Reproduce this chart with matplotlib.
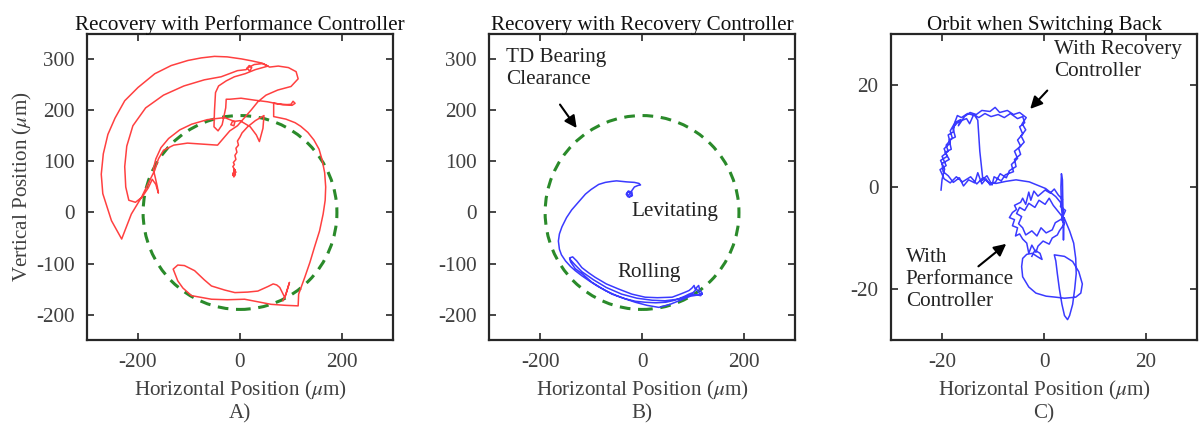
import matplotlib
matplotlib.use('Agg')
import matplotlib.pyplot as plt
from matplotlib.patches import Circle

# fuente tipo Times como en MATLAB
plt.rcParams['font.family'] = ['Liberation Serif', 'DejaVu Serif']
plt.rcParams['mathtext.fontset'] = 'stix'
plt.rcParams['axes.unicode_minus'] = False

# radio de holgura del rodamiento TD (um)
clearance_radius = 190

# A) recuperacion con controlador de desempeno (x, y en um)
perf_x = [-12, -9, -14, -10, -13, -9, -12, -10, -14, -11, -13, -8, -12, -10, -14, -11, -13, -8, -10, -6, -8, -3, -5, 0, 4,
          15, 30, 47, 45, 38, 32, 20, 0, -15, -18, -12, -10,
          -30, -64, -95, -118, -140, -155, -165, -170, -166, -162, -160, -165, -172, -180, -192, -205, -218,
          -224, -226, -222, -210, -185, -150, -110, -70, -37, -5, 12,
          18, 23, 19, 14, 28, 45, 58,
          75, 95, 110, 114, 100, 74, 51, 35, 22, 8, -5, -20, -44,
          -75, -103, -130, -150, -160, -167, -177, -193, -213, -232,
          -252, -269, -272, -268, -259, -245, -226, -200, -167, -135, -102, -76, -50, -25, 3, 24, 42, 55,
          30, 10, -11, -27, -42, -48, -50, -51, -43, -35, -28, -27, -20, 2, 30, 54, 84, 100, 104, 108, 102, 85, 66, 66,
          90, 108, 119, 133, 145, 155, 161, 166, 168, 167, 163, 156, 146, 137, 127, 115, 114,
          90, 61, 35, 9, -25, -56, -95, -112, -122, -131, -122, -109, -89, -70, -56, -30, -10, 15, 35, 55, 65, 72, 78, 88, 97, 90, 84]
perf_y = [70, 74, 77, 80, 72, 78, 84, 76, 73, 82, 75, 79, 86, 83, 90, 94, 98, 104, 112, 118, 126, 132, 140, 148, 156,
          168, 180, 190, 165, 139, 152, 168, 180, 178, 172, 170, 178,
          186, 182, 173, 162, 145, 127, 105, 85, 68, 50, 38, 55, 65, 48, 30, 20, 24,
          50, 90, 130, 170, 205, 230, 248, 260, 266, 278, 280,
          288, 284, 277, 283, 290, 292, 285,
          287, 284, 276, 262, 247, 240, 230, 217, 201, 185, 170, 160, 132,
          134, 136, 132, 122, 105, 83, 63, 30, -3, -52,
          -16, 37, 75, 115, 153, 185, 219, 245, 272, 288, 298, 303, 306, 305, 301, 297, 293, 287,
          280, 272, 266, 258, 248, 235, 200, 168, 160, 172, 205, 222, 222, 224, 220, 217, 211, 212, 218, 214, 210, 212, 214, 188,
          183, 176, 169, 157, 142, 124, 103, 78, 50, 24, -3, -36, -68, -98, -127, -160, -183,
          -182, -180, -175, -170, -171, -170, -163, -148, -134, -111, -103, -104, -114, -132, -144, -152, -157, -156, -154, -145, -140, -142, -147, -167, -137, -160, -173]

# B) recuperacion con controlador de recuperacion
rec_x = [-25, -19, -20, -27, -31, -28, -22, -21, -26, -30, -27,
         -22, -15, -8, -3, -6, -15, -30, -50, -59, -72, -85, -100, -111, -125, -138, -148, -157, -162, -164, -162, -158,
         -150, -140, -131, -118, -105, -88, -72, -52, -33, -13, 7, 27, 46, 60, 72, 84, 92, 100, 107, 112, 118, 108, 95,
         75, 55, 33, 10, -13, -40, -59, -80, -98, -115, -131, -140, -142, -136, -128, -118, -105, -92, -70, -46, -20,
         6, 30, 59, 75, 85, 92, 98, 102, 104, 108, 111, 113, 118, 115, 100, 88, 70,
         45, 20, -10, -40, -70, -95, -118, -132, -141]
rec_y = [30, 33, 40, 42, 36, 31, 32, 38, 41, 37, 33,
         40, 50, 53, 54, 57, 59, 60, 62, 61, 59, 55, 45, 36, 20, 5, -10, -28, -42, -56, -72, -83,
         -95, -106, -114, -124, -133, -144, -153, -162, -169, -174, -176, -177, -176, -173, -169, -164, -160, -157, -150, -158, -160, -162, -164,
         -172, -180, -186, -182, -176, -167, -160, -148, -137, -122, -110, -97, -89, -87, -95, -108, -118, -127, -140, -150, -160,
         -166, -167, -166, -160, -156, -153, -148, -143, -150, -146, -143, -152, -158, -163, -160, -165, -170,
         -173, -172, -168, -160, -147, -132, -116, -102, -92]

# C) orbita al volver al controlador de desempeno
orb_x = [-20.2, -20.0, -19.5, -20.3, -19.0, -19.6, -18.4, -18.8, -17.8, -17.5, -16.4, -16.8, -15.6, -14.5, -13.3, -12.2,
         -10.6, -9.6, -8.7, -7.2, -6.0, -4.8, -3.5, -4.3, -3.6, -4.5, -3.9, -5.0, -4.6, -5.8, -5.5, -6.8, -7.4, -8.6,
         -9.5, -10.6, -11.4, -12.2, -13.0, -13.6, -14.8, -15.8, -16.6, -17.8, -18.8, -19.8,
         -20.0, -18.6, -19.4, -18.2, -18.6, -17.4, -17.9, -16.8, -15.2, -14.6, -13.8, -12.8, -11.6, -10.4, -9.0, -7.8,
         -6.6, -5.2, -4.2, -3.8, -4.8, -4.2, -5.2, -4.6, -5.8, -5.2, -6.4, -6.0, -7.6, -8.4, -9.8, -10.2, -11.2, -12.4,
         -12.0, -12.6, -13.0, -13.6,
         -15.0, -16.2, -17.0, -17.6, -18.4, -18.0, -19.2, -18.8, -20.0, -19.2, -20.4, -19.6, -18.4, -17.2, -16.0, -14.4,
         -13.2, -12.0, -10.8, -9.4,
         -7.5, -5.5, -2.9, 0.3, 2.3,
         3.2, 3.8, 3.4, 4.0, 3.0, 2.6, 1.6, 1.0, -0.2, -1.2, -1.6, -2.4, -3.0, -3.4, -4.2, -4.8, -5.6, -5.2, -6.2, -5.8,
         -6.8, -6.2, -5.4, -5.8, -4.6, -4.2, -3.6, -3.0, -2.6, -2.0, -1.2, 0.2, 1.2, 2.0, 2.8, 3.6, 3.2, 4.2, 3.6,
         3.4, 3.3, 3.4, 3.6, 3.7, 3.8, 3.9,
         2.2, 1.6, 0.4, -0.6, -1.4, -2.4, -3.6, -4.2, -5.0, -4.4, -5.4, -4.8, -3.8, -3.0, -1.8, -1.0, 0.2, 1.0, 1.8,
         2.6, 3.4, 4.0,
         5.0, 5.8, 6.2, 6.3, 6.0, 5.6, 5.0, 4.6, 4.0, 3.5, 3.0, 2.6, 2.3, 2.0,
         4.0, 5.6, 6.8, 7.5, 7.2, 6.2, 4.0, 2.3, 0.4, -1.6, -3.0, -4.2, -4.4, -4.2, -3.4, -2.3, -1.4, -0.4, -0.8,
         -1.8, -2.4]
orb_y = [-0.6, 1.5, 3.5, 5.2, 6.0, 7.5, 8.6, 10.2, 10.8, 12.6, 13.2, 12.0, 13.8, 14.6, 14.2, 15.0,
         14.8, 15.6, 14.6, 15.0, 14.2, 14.6, 13.6, 12.4, 11.2, 10.0, 8.8, 7.6, 6.4, 5.4, 4.0, 3.2, 1.8, 2.6,
         1.0, 0.4, 1.6, 0.6, 2.8, 0.8, 1.4, 0.2, 1.8, 0.9, 2.2, 3.0,
         4.6, 5.4, 6.8, 7.4, 9.2, 9.8, 11.6, 12.8, 13.4, 12.4, 14.2, 13.6, 14.4, 13.8, 14.2, 13.6,
         14.4, 13.4, 13.8, 12.6, 11.8, 10.4, 9.2, 8.0, 7.0, 5.6, 4.4, 3.0, 2.4, 1.2, 2.0, 0.4, 2.2, 1.2,
         1.4, 7.0, 13.1, 14.0,
         14.4, 13.6, 14.0, 12.4, 11.0, 9.6, 8.2, 7.0, 6.0, 4.2, 3.4, 1.6, 0.8, 2.0, 1.0, 2.0,
         0.6, 1.8, 0.8, 0.7,
         1.1, 1.4, 1.0, -0.3, -1.9,
         -3.0, -5.0, -6.4, -7.2, -8.6, -9.4, -10.0, -11.2, -10.6, -11.6, -12.8, -11.4, -13.0, -11.0, -10.2, -9.2, -9.6, -8.0, -7.6, -6.4,
         -6.0, -5.0, -4.4, -3.6, -3.0, -2.2, -3.4, -1.0, -2.6, -0.8, -1.8, -0.6, -1.2, -0.4, -1.6, -2.4, -3.8, -4.6, -6.0,
         -4.0, 0.0, 2.6, 1.4, -4.0, -10.4, -6.0,
         -7.0, -8.4, -9.0, -8.0, -9.6, -8.6, -9.4, -8.0, -7.2, -5.8, -5.2, -4.0, -4.6, -3.2, -4.0, -2.6, -3.4, -2.2, -3.6,
         -4.6, -5.6, -6.2,
         -8.6, -11.0, -14.0, -17.0, -20.0, -23.0, -25.2, -26.0, -25.2, -23.0, -20.0, -17.0, -14.5, -13.3,
         -13.6, -14.6, -16.6, -19.0, -20.8, -21.6, -21.8, -21.6, -21.4, -20.8, -19.6, -17.6, -15.6, -14.0, -13.2, -13.0, -13.6, -14.2, -13.0,
         -12.4, -13.6]

big_ticks_x = [-200, 0, 200]
big_ticks_y = [-200, -100, 0, 100, 200, 300]
small_ticks = [-20, 0, 20]

txt_color = '#404040'
fs = 15.2

fig = plt.figure(figsize=(12.03, 4.24), dpi=100)

def estilo(ax, titulo, letra):
    for s in ax.spines.values():
        s.set_color('#262626')
        s.set_linewidth(1.6)
    ax.tick_params(direction='in', top=True, right=True, length=5, width=1.2,
                   colors='#262626', labelcolor=txt_color, labelsize=fs, pad=9)
    ax.set_title(titulo, fontsize=fs, color='#111111', pad=3)
    ax.set_xlabel('Horizontal Position ($\\mu$m)\n' + letra, fontsize=fs, color=txt_color,
                  linespacing=1.2, labelpad=5)

# Grafico A
ax1 = fig.add_axes([0.0723, 0.198, 0.2544, 0.722])
ax1.add_patch(Circle((0, 0), clearance_radius, fill=False, color='#2a8a2a', lw=2.2, ls=(0, (3.5, 2.5))))
ax1.plot(perf_x, perf_y, color='#ff4040', lw=1.1)
ax1.set_xlim(-300, 300)
ax1.set_ylim(-250, 350)
ax1.set_xticks(big_ticks_x)
ax1.set_yticks(big_ticks_y)
estilo(ax1, 'Recovery with Performance Controller', 'A)')
ax1.set_ylabel('Vertical Position ($\\mu$m)', fontsize=fs, color=txt_color, labelpad=1.5)

# Grafico B
ax2 = fig.add_axes([0.4065, 0.198, 0.2544, 0.722])
ax2.add_patch(Circle((0, 0), clearance_radius, fill=False, color='#2a8a2a', lw=2.2, ls=(0, (3.5, 2.5))))
ax2.plot(rec_x, rec_y, color='#3a3aff', lw=1.1)
ax2.set_xlim(-300, 300)
ax2.set_ylim(-250, 350)
ax2.set_xticks(big_ticks_x)
ax2.set_yticks(big_ticks_y)
estilo(ax2, 'Recovery with Recovery Controller', 'B)')
ax2.text(-266, 322, 'TD Bearing\nClearance', fontsize=fs, color='#222222', va='top', linespacing=1.2)
ax2.annotate('', xy=(-125, 161), xytext=(-164, 216),
             arrowprops=dict(arrowstyle='-|>', color='black', lw=1.5, mutation_scale=18))
ax2.text(-20, 1, 'Levitating', fontsize=fs, color='#222222', va='center')
ax2.text(-48, -117, 'Rolling', fontsize=fs, color='#222222', va='center')

# Grafico C
ax3 = fig.add_axes([0.7407, 0.198, 0.2544, 0.722])
ax3.plot(orb_x, orb_y, color='#3a3aff', lw=1.1)
ax3.set_xlim(-30, 30)
ax3.set_ylim(-30, 30)
ax3.set_xticks(small_ticks)
ax3.set_yticks(small_ticks)
estilo(ax3, 'Orbit when Switching Back', 'C)')
ax3.text(2.0, 28.8, 'With Recovery\nController', fontsize=fs, color='#222222', va='top', linespacing=1.2)
ax3.annotate('', xy=(-3.1, 14.9), xytext=(1.0, 19.3),
             arrowprops=dict(arrowstyle='-|>', color='black', lw=1.5, mutation_scale=18))
ax3.text(-27.1, -12.0, 'With\nPerformance\nController', fontsize=fs, color='#222222', va='top', linespacing=1.2)
ax3.annotate('', xy=(-7.0, -10.8), xytext=(-13.3, -15.9),
             arrowprops=dict(arrowstyle='-|>', color='black', lw=1.5, mutation_scale=18))

fig.savefig('out.png', dpi=100)
